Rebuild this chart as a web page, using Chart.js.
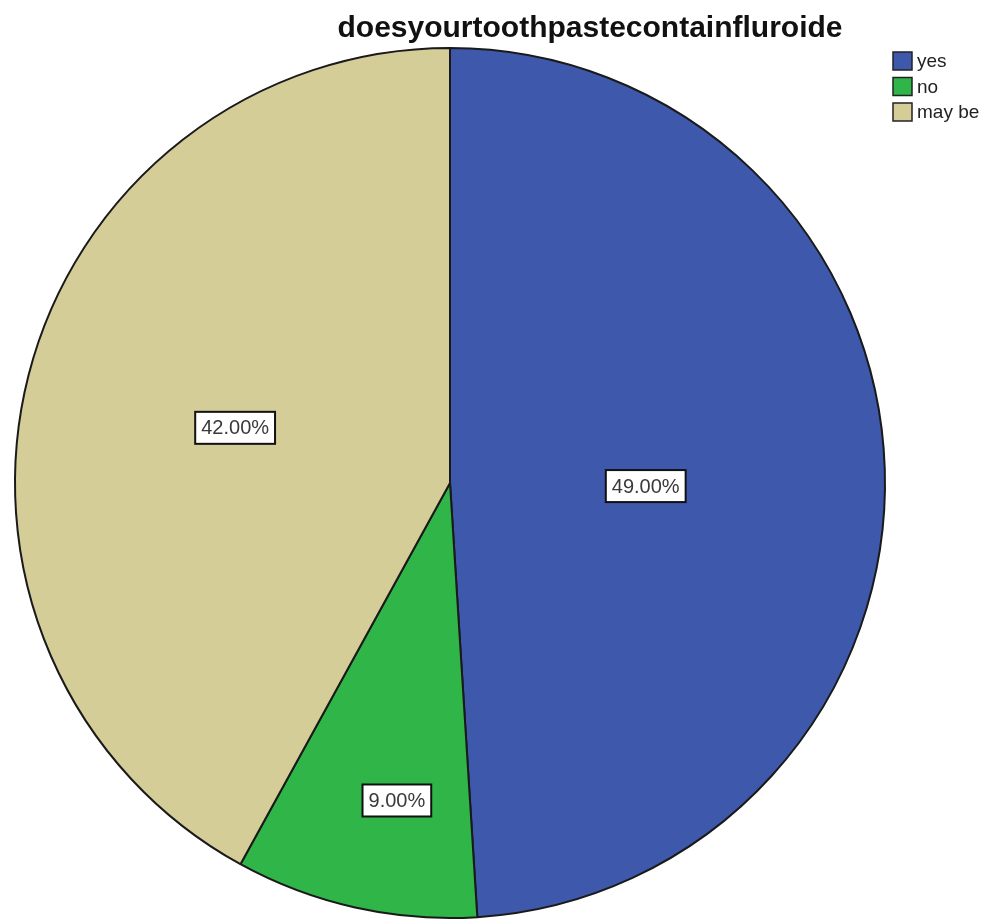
<!DOCTYPE html>
<html>
<head>
<meta charset="utf-8">
<title>doesyourtoothpastecontainfluroide</title>
<script src="https://cdn.jsdelivr.net/npm/chart.js@4.4.1/dist/chart.umd.min.js"></script>
<style>
  html, body { margin: 0; padding: 0; background: #fff; }
  canvas { display: block; }
</style>
</head>
<body>
<canvas id="piechart" width="988" height="920"></canvas>
<script>
var chartTitle = 'doesyourtoothpastecontainfluroide';
var categories = ['yes', 'no', 'may be'];
var percents = [49, 9, 42];
var sliceColors = ['#3e58ac', '#2fb548', '#d4cd98'];
// where each percentage box sits: fraction of the radius, and a small turn (degrees) off the slice middle
var labelRadius = [0.45, 0.74, 0.51];
var labelTurn = [2.7, -3.1, 0];

// title, legend and the boxed percentage labels
var decorations = {
	id: 'decorations',
	afterDraw: function(chart) {
		var ctx = chart.ctx;
		ctx.save();

		ctx.fillStyle = '#111';
		ctx.font = 'bold 30px "Liberation Sans", Arial, sans-serif';
		ctx.textAlign = 'center';
		ctx.textBaseline = 'alphabetic';
		ctx.fillText(chartTitle, 590, 37);

		ctx.textAlign = 'left';
		ctx.textBaseline = 'middle';
		ctx.font = '19px "Liberation Sans", Arial, sans-serif';
		for (var i = 0; i < categories.length; i++) {
			var y = 52 + i * 25.5;
			ctx.fillStyle = sliceColors[i];
			ctx.fillRect(893, y, 19, 18);
			ctx.strokeStyle = '#222';
			ctx.lineWidth = 1.5;
			ctx.strokeRect(893, y, 19, 18);
			ctx.fillStyle = '#222';
			ctx.fillText(categories[i], 917, y + 10);
		}

		var meta = chart.getDatasetMeta(0);
		ctx.font = '20px "Liberation Sans", Arial, sans-serif';
		ctx.textAlign = 'center';
		meta.data.forEach(function(arc, i) {
			var p = arc.getProps(['x', 'y', 'startAngle', 'endAngle', 'outerRadius'], true);
			var mid = (p.startAngle + p.endAngle) / 2 + labelTurn[i] * Math.PI / 180;
			var r = p.outerRadius * labelRadius[i];
			var cx = p.x + Math.cos(mid) * r;
			var cy = p.y + Math.sin(mid) * r;
			var text = percents[i].toFixed(2) + '%';
			var w = ctx.measureText(text).width + 12;
			var h = 32;
			ctx.fillStyle = '#fff';
			ctx.fillRect(cx - w / 2, cy - h / 2, w, h);
			ctx.strokeStyle = '#111';
			ctx.lineWidth = 2;
			ctx.strokeRect(cx - w / 2, cy - h / 2, w, h);
			ctx.fillStyle = '#3a3a3a';
			ctx.fillText(text, cx, cy + 1);
		});
		ctx.restore();
	}
};

var ctx = document.getElementById('piechart');
var piechart = new Chart(ctx, {
	type: 'pie',
	data: {
		labels: categories,
		datasets: [{
			data: percents,
			backgroundColor: sliceColors,
			borderColor: '#1a1a1a',
			borderWidth: 2
		}]
	},
	options: {
		responsive: false,
		animation: false,
		layout: {
			padding: { left: 14, right: 102, top: 47, bottom: 1 }
		},
		plugins: {
			legend: { display: false },
			title: { display: false },
			tooltip: { enabled: false }
		}
	},
	plugins: [decorations]
});
</script>
</body>
</html>
